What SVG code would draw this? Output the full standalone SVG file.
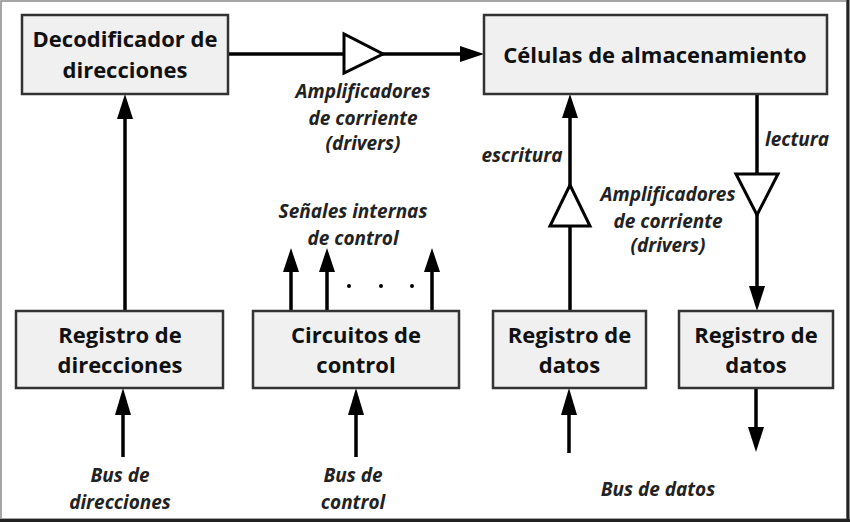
<svg xmlns="http://www.w3.org/2000/svg" width="850" height="523" viewBox="0 0 850 523">
<defs>
<style>
.box{fill:#f0f0f0;stroke:#333;stroke-width:2.5}
.t{font-family:"Open Sans","Liberation Sans",sans-serif;font-weight:bold;font-size:22px;fill:#111;text-anchor:middle}
.l{font-family:"Open Sans","Liberation Sans",sans-serif;font-weight:bold;font-style:italic;font-size:19px;fill:#222;text-anchor:middle}
.w{fill:none;stroke:#000;stroke-width:3.5}
.amp{fill:#fff;stroke:#000;stroke-width:3;stroke-linejoin:miter}
.h{fill:#000}
</style>
</defs>
<rect width="850" height="523" fill="#fff"/>
<g id="frame">
<rect x="1" y="1" width="846" height="518" fill="none" stroke="#888" stroke-width="1.5"/>
<line x1="848" y1="0" x2="848" y2="521" stroke="#222" stroke-width="3"/>
<line x1="0" y1="520.5" x2="850" y2="520.5" stroke="#222" stroke-width="3"/>
</g>
<g id="connectors">
<line class="w" x1="228" y1="54" x2="462" y2="54"/>
<polygon class="amp" points="344,34 344,73 383,54"/>
<polygon class="h" points="460,46 484,54 460,62"/>
<line class="w" x1="125" y1="311" x2="125" y2="115"/>
<polygon class="h" points="117,119 125,94 133,119"/>
<line class="w" x1="123" y1="457" x2="123" y2="410"/>
<polygon class="h" points="115,415 123,388 131,415"/>
<line class="w" x1="356" y1="457" x2="356" y2="410"/>
<polygon class="h" points="348,415 356,388 364,415"/>
<line class="w" x1="569" y1="453" x2="569" y2="410"/>
<polygon class="h" points="561,415 569,388 577,415"/>
<line class="w" x1="756" y1="388" x2="756" y2="430"/>
<polygon class="h" points="748,427 756,452 764,427"/>
<line class="w" x1="291" y1="311" x2="291" y2="268"/>
<polygon class="h" points="283,272 291,248 299,272"/>
<line class="w" x1="327" y1="311" x2="327" y2="268"/>
<polygon class="h" points="319,272 327,248 335,272"/>
<line class="w" x1="432" y1="311" x2="432" y2="268"/>
<polygon class="h" points="424,272 432,248 440,272"/>
<circle cx="349" cy="286" r="2" class="h"/>
<circle cx="381" cy="286" r="2" class="h"/>
<circle cx="412" cy="286" r="2" class="h"/>
<line class="w" x1="570" y1="311" x2="570" y2="115"/>
<polygon class="amp" points="550,226 590,226 570,185"/>
<polygon class="h" points="562,118 570,94 578,118"/>
<line class="w" x1="757" y1="94" x2="757" y2="290"/>
<polygon class="amp" points="736,174 778,174 757,215"/>
<polygon class="h" points="749,286 757,311 765,286"/>
</g>
<g id="decodificador">
<rect class="box" x="22" y="15" width="206" height="79"/>
<text class="t" x="125" y="47">Decodificador de</text>
<text class="t" x="125" y="78">direcciones</text>
</g>
<g id="celulas">
<rect class="box" x="484" y="15" width="343" height="79"/>
<text class="t" x="655" y="63">Células de almacenamiento</text>
</g>
<g id="reg-direcciones">
<rect class="box" x="16" y="311" width="207" height="77"/>
<text class="t" x="120" y="343">Registro de</text>
<text class="t" x="120" y="373">direcciones</text>
</g>
<g id="circuitos">
<rect class="box" x="253" y="311" width="206" height="77"/>
<text class="t" x="356" y="343">Circuitos de</text>
<text class="t" x="356" y="373">control</text>
</g>
<g id="reg-datos-1">
<rect class="box" x="493" y="311" width="153" height="77"/>
<text class="t" x="569.5" y="343">Registro de</text>
<text class="t" x="569.5" y="373">datos</text>
</g>
<g id="reg-datos-2">
<rect class="box" x="679" y="311" width="154" height="77"/>
<text class="t" x="756" y="343">Registro de</text>
<text class="t" x="756" y="373">datos</text>
</g>
<g id="labels">
<text class="l" x="363" y="98">Amplificadores</text>
<text class="l" x="363" y="125">de corriente</text>
<text class="l" x="363" y="150">(drivers)</text>
<text class="l" x="522" y="162">escritura</text>
<text class="l" x="797" y="146">lectura</text>
<text class="l" x="668" y="201">Amplificadores</text>
<text class="l" x="668" y="228">de corriente</text>
<text class="l" x="668" y="252">(drivers)</text>
<text class="l" x="353" y="218">Señales internas</text>
<text class="l" x="353" y="245">de control</text>
<text class="l" x="120" y="482">Bus de</text>
<text class="l" x="120" y="509">direcciones</text>
<text class="l" x="353" y="482">Bus de</text>
<text class="l" x="353" y="509">control</text>
<text class="l" x="658" y="496">Bus de datos</text>
</g>
</svg>
